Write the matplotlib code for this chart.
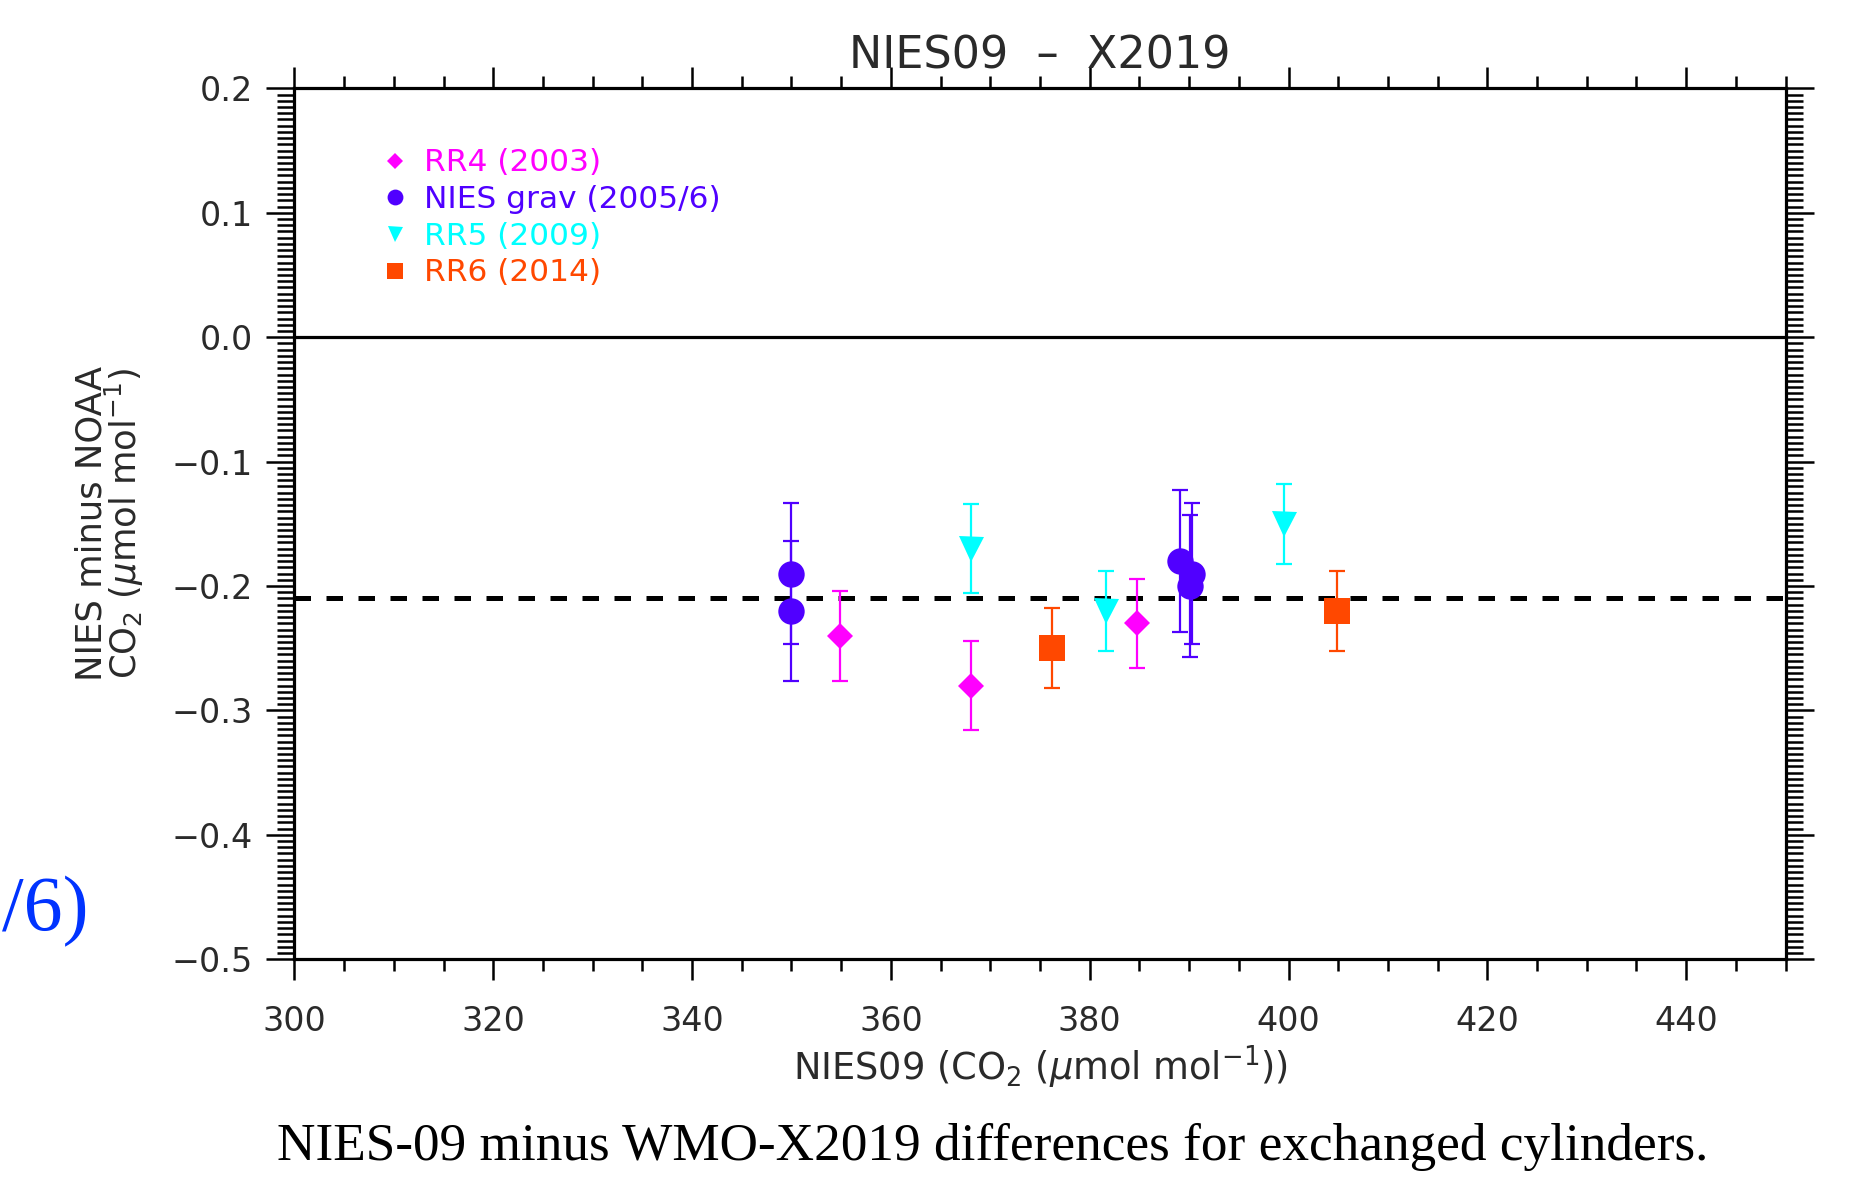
import matplotlib
matplotlib.use("Agg")
import matplotlib.pyplot as plt
from matplotlib.ticker import MultipleLocator, FuncFormatter

# ---------------- data ----------------
rr4_x = [354.9, 368.1, 384.8]
rr4_y = [-0.240, -0.280, -0.230]
rr4_err = [0.036, 0.036, 0.036]

nies_x = [350.0, 350.0, 389.1, 390.3, 390.1]
nies_y = [-0.190, -0.220, -0.180, -0.190, -0.200]
nies_err = [0.057, 0.056, 0.057, 0.057, 0.057]

rr5_x = [368.1, 381.6, 399.5]
rr5_y = [-0.170, -0.220, -0.150]
rr5_err = [0.036, 0.032, 0.032]

rr6_x = [376.2, 404.9]
rr6_y = [-0.250, -0.220]
rr6_err = [0.032, 0.032]

mean_offset = -0.21
labels = ["RR4 (2003)", "NIES grav (2005/6)", "RR5 (2009)", "RR6 (2014)"]
colors = ["#FF00FF", "#5000FF", "#00FFFF", "#FF4800"]
x_ticks = [300, 320, 340, 360, 380, 400, 420, 440]

# ---------------- figure ----------------
fig = plt.figure(figsize=(18.54, 11.80), dpi=100)
ax = fig.add_axes([0.1588, 0.1871, 0.8043, 0.7380])

ax.set_xlim(300, 450)
ax.set_ylim(-0.5, 0.2)

ax.axhline(0.0, color="black", lw=2.3, zorder=2)
ax.axhline(mean_offset, color="black", lw=3.6, linestyle=(0, (3.3, 3.1)), zorder=2)

series = [
    (rr4_x, rr4_y, rr4_err, "D", 13.5),
    (nies_x, nies_y, nies_err, "o", 19),
    (rr5_x, rr5_y, rr5_err, "v", 18),
    (rr6_x, rr6_y, rr6_err, "s", 19),
]
handles = []
for (x, y, e, m, ms), lab, c in zip(series, labels, colors):
    ax.errorbar(x, y, yerr=e, fmt="none", ecolor=c, elinewidth=1.6,
                capsize=6, capthick=1.6, zorder=3)
    h, = ax.plot(x, y, linestyle="none", marker=m, ms=ms, color=c,
                 markeredgewidth=0, label=lab, zorder=4)
    handles.append(h)

leg = ax.legend(handles=handles, loc="upper left", bbox_to_anchor=(0.057, 0.931),
                bbox_transform=ax.transAxes, frameon=False, borderpad=0,
                borderaxespad=0, handlelength=1.0, handletextpad=0.42,
                labelspacing=0.245, markerscale=0.6, fontsize=22.5,
                labelcolor="markerfacecolor")

# ticks
ax.set_xticks(x_ticks)
ax.xaxis.set_minor_locator(MultipleLocator(5))
ax.yaxis.set_major_locator(MultipleLocator(0.1))
ax.yaxis.set_minor_locator(MultipleLocator(0.005))
ax.tick_params(which="both", direction="out", top=True, right=True,
               labeltop=False, labelright=False, color="black")
ax.tick_params(which="major", width=1.8, labelsize=24, labelcolor="#2a2a2a")
ax.tick_params(axis="y", which="major", length=20, pad=10)
ax.tick_params(axis="x", which="major", length=15, pad=18)
ax.tick_params(axis="x", which="minor", length=8.5, width=1.8)
ax.tick_params(axis="y", which="minor", length=12, width=1.8)
ax.yaxis.set_major_formatter(FuncFormatter(
    lambda v, p: ("\u2212" if v < -1e-9 else "") + f"{abs(v):.1f}"))

for s in ax.spines.values():
    s.set_linewidth(2.3)

ax.set_title("NIES09  \u2013  X2019", fontsize=32, color="#2a2a2a", pad=14)
ax.set_xlabel("NIES09 (CO$_2$ ($\\mu$mol mol$^{-1}$))", fontsize=26.5,
              color="#2a2a2a", labelpad=4)
ax.set_ylabel("NIES minus NOAA\nCO$_2$ ($\\mu$mol mol$^{-1}$)", fontsize=25.5,
              color="#2a2a2a", linespacing=0.85, labelpad=18)

fig.text(0.5355, 1 - 1147 / 1180, "NIES-09 minus WMO-X2019 differences for exchanged cylinders.",
         family="Liberation Serif", fontsize=38.3, ha="center", va="center", color="black")
fig.text(0.001, 1 - 930 / 1180, "/6)", family="Liberation Serif", fontsize=56,
         ha="left", va="baseline", color="#0033FF")

fig.savefig("out.png", dpi=100)
